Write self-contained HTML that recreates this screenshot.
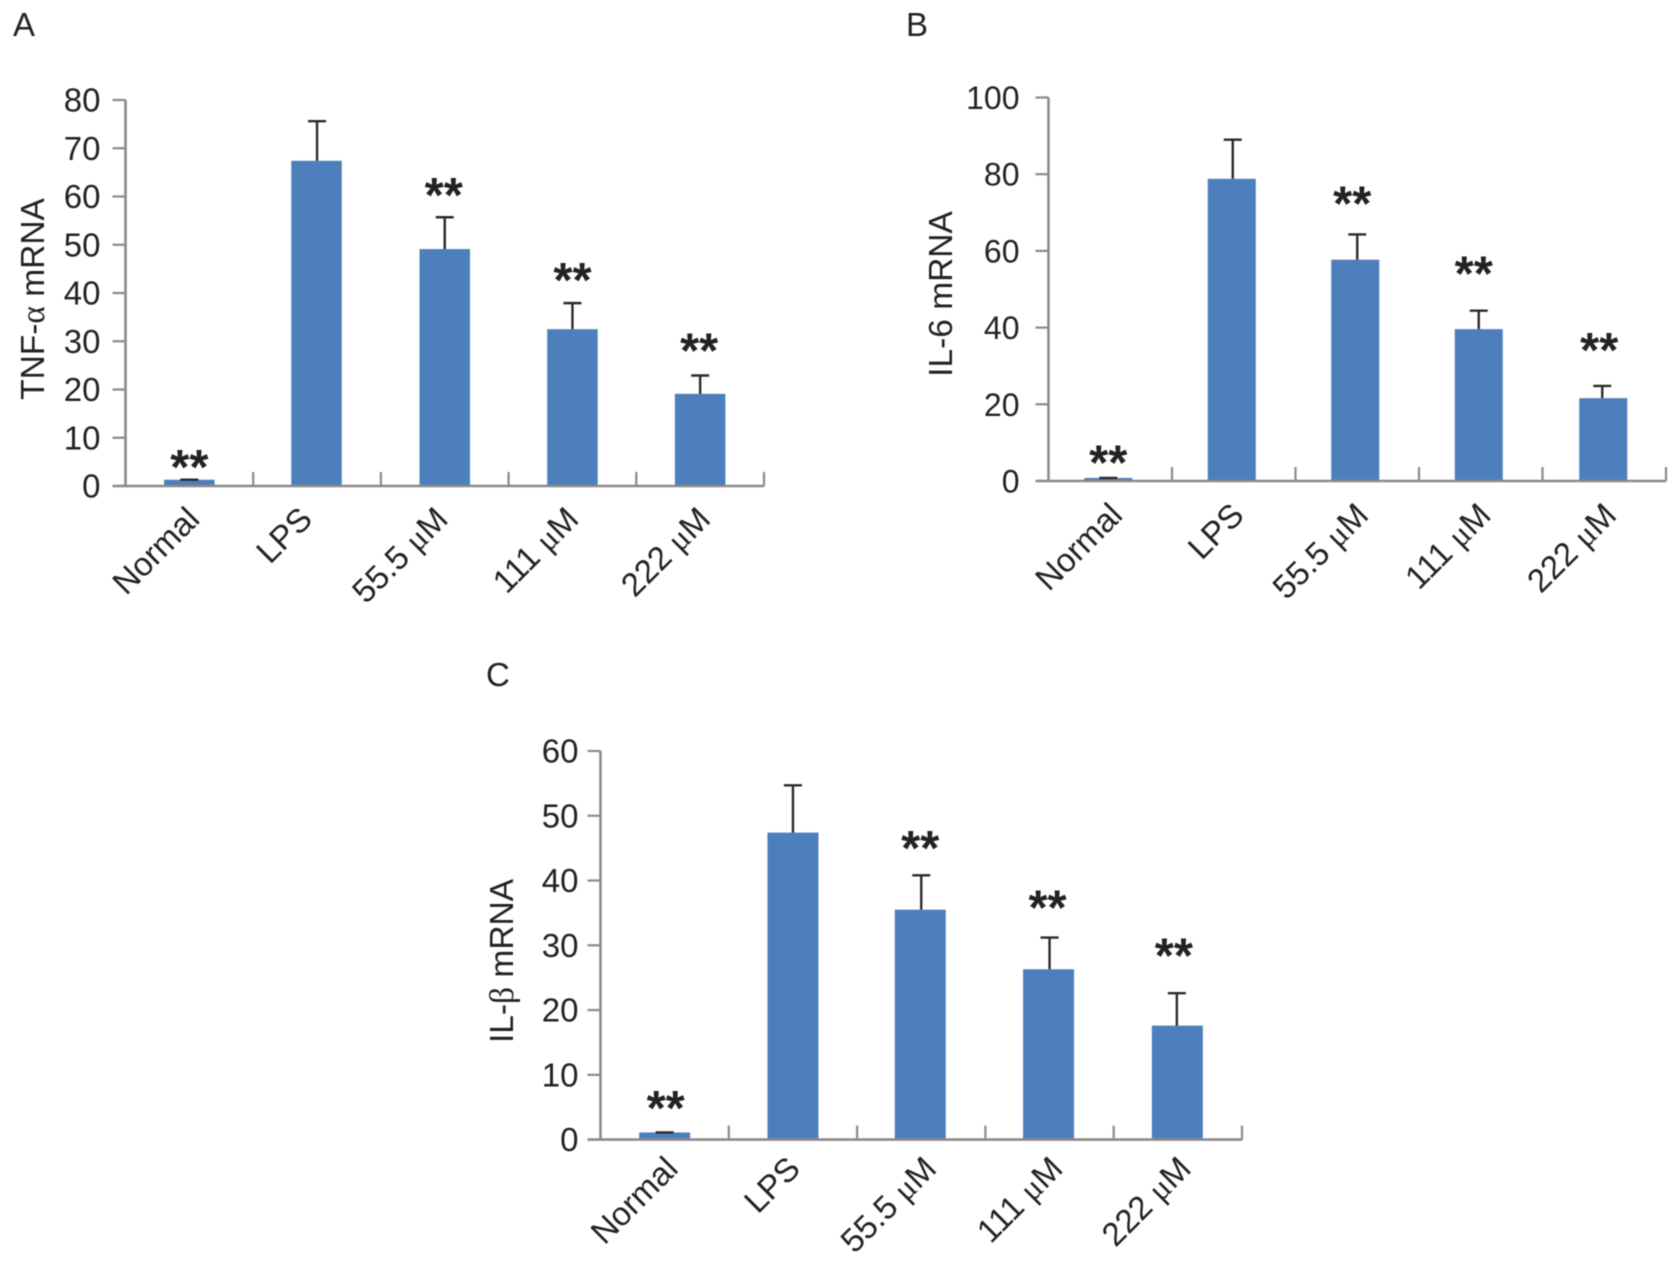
<!DOCTYPE html>
<html lang="en">
<head>
<meta charset="utf-8">
<title>TNF-α, IL-6 and IL-β mRNA bar charts</title>
<style>
  html, body { margin: 0; padding: 0; background: #ffffff; }
  body { width: 1678px; height: 1263px; overflow: hidden; }
  svg { display: block; filter: blur(0.6px); }
  text { font-family: "Liberation Sans", sans-serif; fill: #222222; }
  .greek { font-family: "Liberation Serif", serif; }
</style>
</head>
<body>
<svg id="figure" xmlns="http://www.w3.org/2000/svg" width="1678" height="1263" viewBox="0 0 1678 1263"></svg>
<script>
const categories = ["Normal", "LPS", "55.5 μM", "111 μM", "222 μM"];

const tnfValues = [1.3, 67.4, 49.1, 32.5, 19.1];
const tnfErrors = [0, 8.2, 6.6, 5.4, 3.8];
const tnfTicks = [0, 10, 20, 30, 40, 50, 60, 70, 80];
const tnfSignificance = ["**", "", "**", "**", "**"];
const tnfMarkerLevels = [6.2, null, 62.6, 45, 30.4];

const il6Values = [0.8, 78.8, 57.7, 39.6, 21.6];
const il6Errors = [0, 10.2, 6.6, 4.8, 3.2];
const il6Ticks = [0, 20, 40, 60, 80, 100];
const il6Significance = ["**", "", "**", "**", "**"];
const il6MarkerLevels = [7.7, null, 75.2, 57, 37];

const ilbValues = [1.1, 47.4, 35.5, 26.3, 17.6];
const ilbErrors = [0, 7.3, 5.3, 4.9, 5];
const ilbTicks = [0, 10, 20, 30, 40, 50, 60];
const ilbSignificance = ["**", "", "**", "**", "**"];
const ilbMarkerLevels = [6.6, null, 46.7, 37.5, 30.1];

const NS = "http://www.w3.org/2000/svg";
const svg = document.getElementById("figure");

function make(tag, parent, attrs) {
  const el = document.createElementNS(NS, tag);
  for (const k in attrs) el.setAttribute(k, attrs[k]);
  parent.appendChild(el);
  return el;
}

function fillRich(el, str) {
  str.split(/([α-ωμ])/).forEach(function (part) {
    if (!part) return;
    const t = document.createElementNS(NS, "tspan");
    if (/^[α-ωμ]$/.test(part)) t.setAttribute("class", "greek");
    t.textContent = part;
    el.appendChild(t);
  });
}

function drawChart(c) {
  const g = make("g", svg, {});
  
  

  const n = categories.length;
  const band = (c.right - c.left) / n;
  const xCenter = function (i) { return c.left + band * (i + 0.5); };
  const yScale = function (v) { return c.y0 - (v - 0) * (c.y0 - c.yTop) / c.yMax; };

  const panel = make("text", g, { x: c.panelX, y: c.panelY, "font-size": 33 });
  
  
  panel.textContent = c.panel;

  c.values.forEach(function (v, i) {
    const barX = xCenter(i) + c.barNudge[i];
    const bar = make("rect", g, {
      x: barX - c.barWidth / 2,
      y: yScale(v),
      width: c.barWidth,
      height: yScale(0) - yScale(v),
      fill: "#4d7fbc"
    });
    
    

    const top = yScale(v + c.errors[i]);
    const errX = xCenter(i) + c.errNudge[i];
    const err = make("path", g, {
      d: "M" + errX + " " + yScale(v) + "V" + top + "M" + (errX - 9) + " " + top + "H" + (errX + 9),
      stroke: "#2a2a2a",
      "stroke-width": 2.4,
      fill: "none"
    });
    
    

    if (c.significance[i]) {
      const star = make("text", g, {
        x: xCenter(i) + c.starNudge[i],
        y: yScale(c.markerLevels[i]) + 28,
        "font-size": 49,
        "font-weight": "bold",
        "text-anchor": "middle"
      });
      
      
      star.textContent = c.significance[i];
    }

    const label = make("text", g, {
      "font-size": c.labelSize,
      "text-anchor": "end",
      transform: "translate(" + (xCenter(i) + c.labelNudge[i]) + " " + (c.y0 + c.labelDrop) + ") rotate(-45)"
    });
    
    
    fillRich(label, categories[i]);
  });

  const axes = make("path", g, {
    d: "M" + c.left + " " + yScale(c.yMax) + "V" + c.y0 + "M" + (c.left - 13) + " " + c.y0 + "H" + c.right,
    stroke: "#8a8a8a",
    "stroke-width": 2.6,
    fill: "none"
  });
  
  

  for (let i = 1; i <= n; i++) {
    const tx = c.left + band * i;
    const xt = make("line", g, { x1: tx, x2: tx, y1: c.y0, y2: c.y0 - 14, stroke: "#8a8a8a", "stroke-width": 2.2 });
    
    
  }

  c.ticks.forEach(function (t) {
    const y = yScale(t);
    const tick = make("line", g, { x1: c.left - 13, x2: c.left, y1: y, y2: y, stroke: "#8a8a8a", "stroke-width": 2.2 });
    
    
    const lab = make("text", g, {
      x: c.left - c.tickGap,
      y: y + 11.5,
      "font-size": c.tickSize,
      "text-anchor": "end"
    });
    
    
    lab.textContent = t;
  });

  const title = make("text", g, {
    "font-size": c.titleSize,
    "text-anchor": "middle",
    transform: "translate(" + c.titleX + " " + c.titleY + ") rotate(-90)"
  });
  
  
  fillRich(title, c.title);
}

drawChart({
  key: "tnf", panel: "A", panelX: 13, panelY: 36, title: "TNF-α mRNA",
  values: tnfValues, errors: tnfErrors, ticks: tnfTicks, significance: tnfSignificance, markerLevels: tnfMarkerLevels,
  left: 125.5, right: 764, y0: 486, yTop: 100, yMax: 80, barWidth: 50.5,
  barNudge: [0, -0.5, 0, 0, 0], errNudge: [0, 0, 0, 0, 0], starNudge: [0, 0, -1, 0, -1],
  tickGap: 25, tickSize: 33, titleSize: 33.5, titleX: 44, titleY: 299, labelSize: 33, labelDrop: 35,
  labelNudge: [12, -3, 5, 8, 12]
});
drawChart({
  key: "il6", panel: "B", panelX: 906, panelY: 36, title: "IL-6 mRNA",
  values: il6Values, errors: il6Errors, ticks: il6Ticks, significance: il6Significance, markerLevels: il6MarkerLevels,
  left: 1048.5, right: 1666, y0: 481, yTop: 97.5, yMax: 100, barWidth: 48,
  barNudge: [-2, -2, -2, -2, -1], errNudge: [-2, -1, 0, -2, -2], starNudge: [-2, 0, -5, -7, -5],
  tickGap: 29, tickSize: 32, titleSize: 33.5, titleX: 952, titleY: 294, labelSize: 33, labelDrop: 36,
  labelNudge: [14, 12, 13, 12, 14]
});
drawChart({
  key: "ilb", panel: "C", panelX: 486, panelY: 686, title: "IL-β mRNA",
  values: ilbValues, errors: ilbErrors, ticks: ilbTicks, significance: ilbSignificance, markerLevels: ilbMarkerLevels,
  left: 600.5, right: 1242, y0: 1139.6, yTop: 751, yMax: 60, barWidth: 51,
  barNudge: [0, 0, -1, -1, -0.5], errNudge: [0, 0, 0, 0, -1], starNudge: [1, 0, -1, -2, -4],
  tickGap: 22, tickSize: 33, titleSize: 33.5, titleX: 513, titleY: 961, labelSize: 33, labelDrop: 31,
  labelNudge: [15, 9, 17, 15, 15]
});
</script>
</body>
</html>
